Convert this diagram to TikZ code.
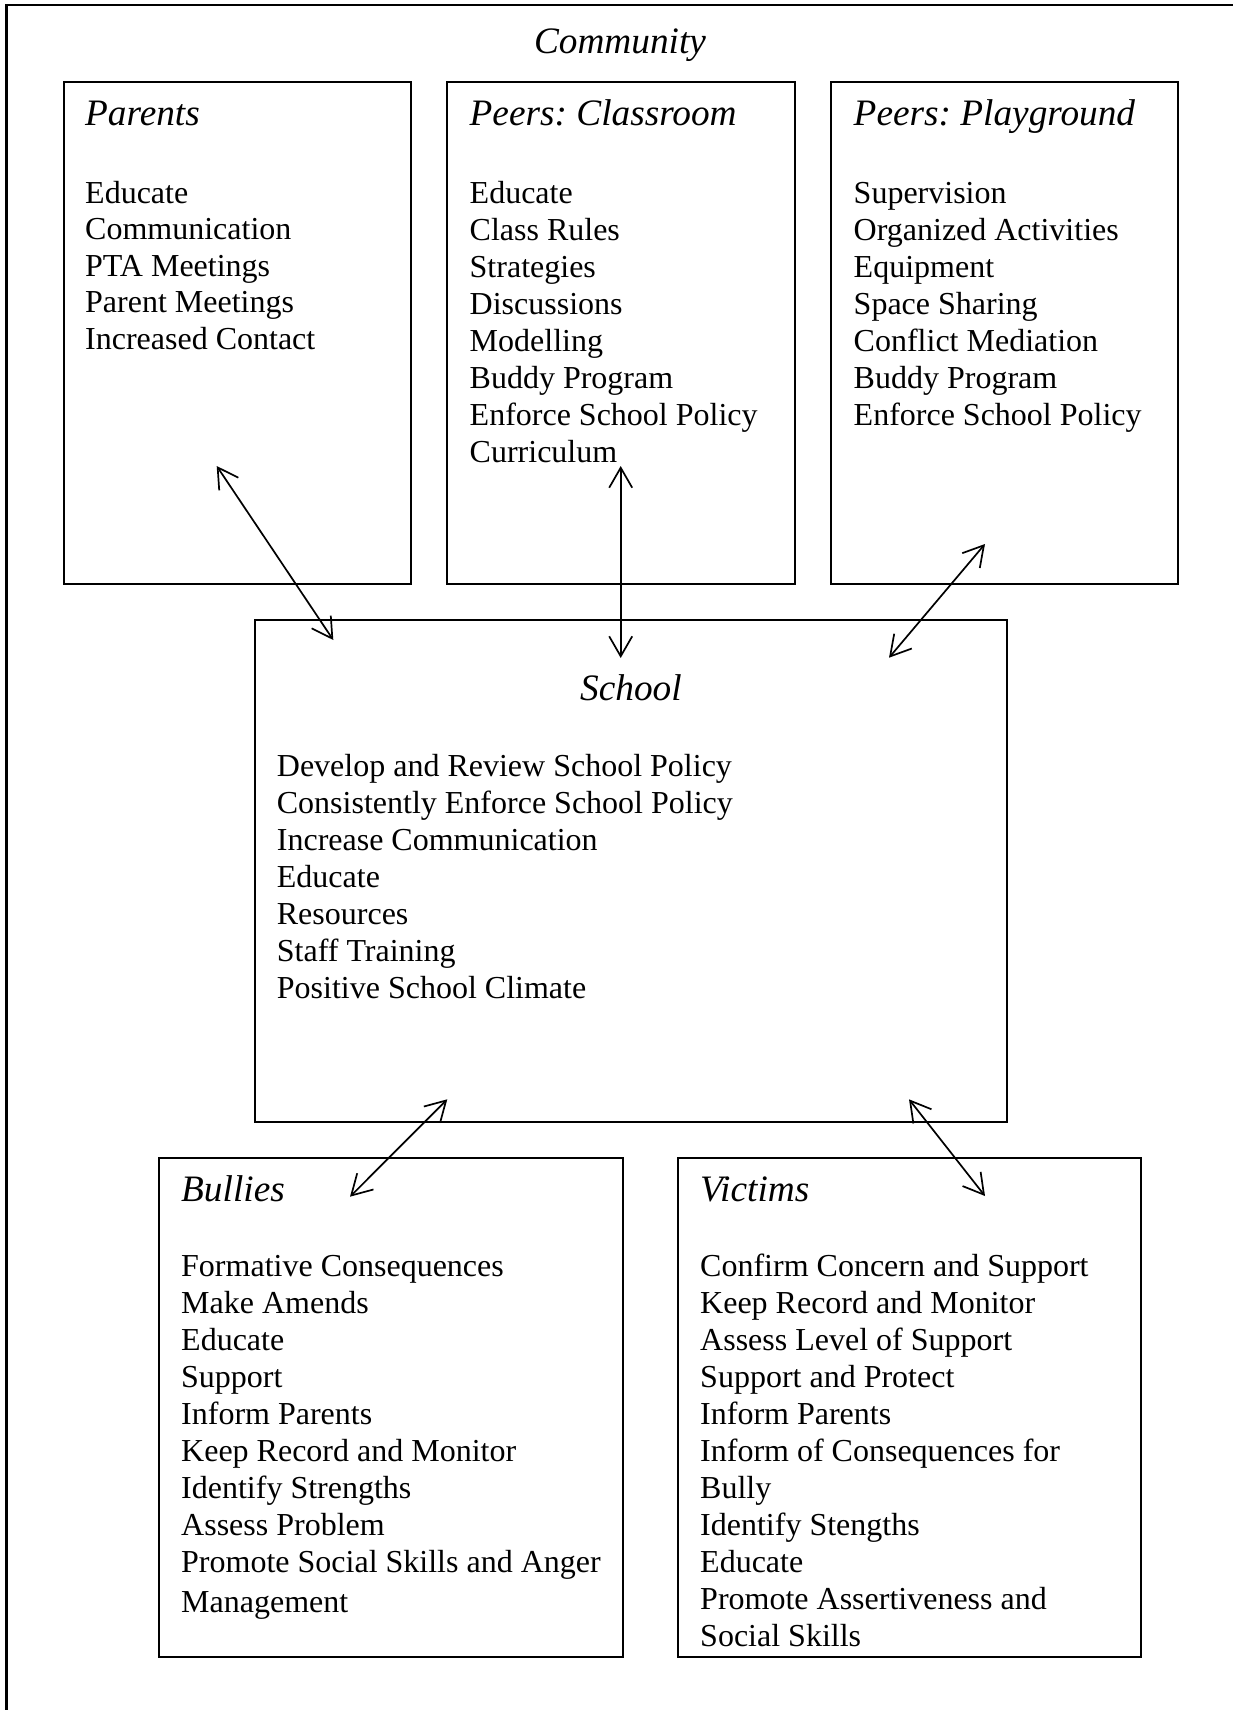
\documentclass[tikz,border=0pt]{standalone}
\usepackage{fontspec}
\setmainfont{Liberation Serif}
\usetikzlibrary{arrows.meta}
\tikzset{
  box/.style 2 args={draw, line width=2pt, anchor=north west, inner sep=0pt, outer sep=0pt, minimum width=#1, minimum height=#2},
  ttl/.style={anchor=base west, inner sep=0pt, font=\fontsize{37.3}{40}\selectfont\itshape\frenchspacing},
  lst/.style={anchor=base west, inner sep=0pt, font=\fontsize{32}{#1}\selectfont},
  lst/.default=36.7,
  link/.style={line width=1.7pt, {Straight Barb[length=20pt,width=23pt,line width=1.7pt]}-{Straight Barb[length=20pt,width=23pt,line width=1.7pt]}}
}
\newcommand{\items}[1]{\begin{tabular}[t]{@{}l@{}}#1\end{tabular}}
\begin{document}
\begin{tikzpicture}[x=1pt,y=-1pt]
\useasboundingbox (0,0) rectangle (1233,1710);
% community frame (top and left edges)
\draw[line width=2.5pt] (6.5,1712) -- (6.5,5) -- (1235,5);
\node[ttl, anchor=base] (community) at (620,53) {Community};

% boxes
\node[box={347.7pt}{502.3pt}] (parents) at (63.5,81.7) {};
\node[box={348pt}{502.3pt}] (classroom) at (446.8,81.7) {};
\node[box={347.6pt}{502.3pt}] (playground) at (830.7,81.7) {};
\node[box={752pt}{502pt}] (school) at (254.7,619.5) {};
\node[box={463.3pt}{499.5pt}] (bullies) at (159.2,1157.7) {};
\node[box={462.7pt}{499.5pt}] (victims) at (678.3,1157.7) {};

% titles
\node[ttl] (parentsT) at (85,125) {Parents};
\node[ttl] (classroomT) at (469.5,125) {Peers: Classroom};
\node[ttl] (playgroundT) at (853.5,125) {Peers: Playground};
\node[ttl] (schoolT) at (580,700) {School};
\node[ttl] (bulliesT) at (181,1201.7) {Bullies};
\node[ttl] (victimsT) at (700,1201.7) {Victims};

% lists
\node[lst=36.5] (parentsL) at (85,203.3) {\items{Educate\\Communication\\PTA Meetings\\Parent Meetings\\Increased Contact}};
\node[lst=37] (classroomL) at (469.5,203.3) {\items{Educate\\Class Rules\\Strategies\\Discussions\\Modelling\\Buddy Program\\Enforce School Policy\\Curriculum}};
\node[lst=37.1] (playgroundL) at (853.5,203.3) {\items{Supervision\\Organized Activities\\Equipment\\Space Sharing\\Conflict Mediation\\Buddy Program\\Enforce School Policy}};
\node[lst=37.1] (schoolL) at (276.7,776) {\items{Develop and Review School Policy\\Consistently Enforce School Policy\\Increase Communication\\Educate\\Resources\\Staff Training\\Positive School Climate}};
\node[lst=37.1] (bulliesL) at (181,1276) {\items{Formative Consequences\\Make Amends\\Educate\\Support\\Inform Parents\\Keep Record and Monitor\\Identify Strengths\\Assess Problem\\Promote Social Skills and Anger\\[3pt]Management}};
\node[lst=37] (victimsL) at (700,1276) {\items{Confirm Concern and Support\\Keep Record and Monitor\\Assess Level of Support\\Support and Protect\\Inform Parents\\Inform of Consequences for\\Bully\\Identify Stengths\\Educate\\Promote Assertiveness and\\Social Skills}};

% connector ends
\coordinate (pE) at (216.7,466);
\coordinate (sP) at (333.3,640);
\coordinate (cE) at (620.7,466);
\coordinate (sC) at (620.7,658);
\coordinate (gE) at (985,544);
\coordinate (sG) at (889,657.7);
\coordinate (sB) at (447.3,1099.3);
\coordinate (bE) at (350,1196.7);
\coordinate (sV) at (909,1099.3);
\coordinate (vE) at (985,1196);

\draw[link] (pE) -- (sP);
\draw[link] (cE) -- (sC);
\draw[link] (gE) -- (sG);
\draw[link] (sB) -- (bE);
\draw[link] (sV) -- (vE);
\end{tikzpicture}
\end{document}
